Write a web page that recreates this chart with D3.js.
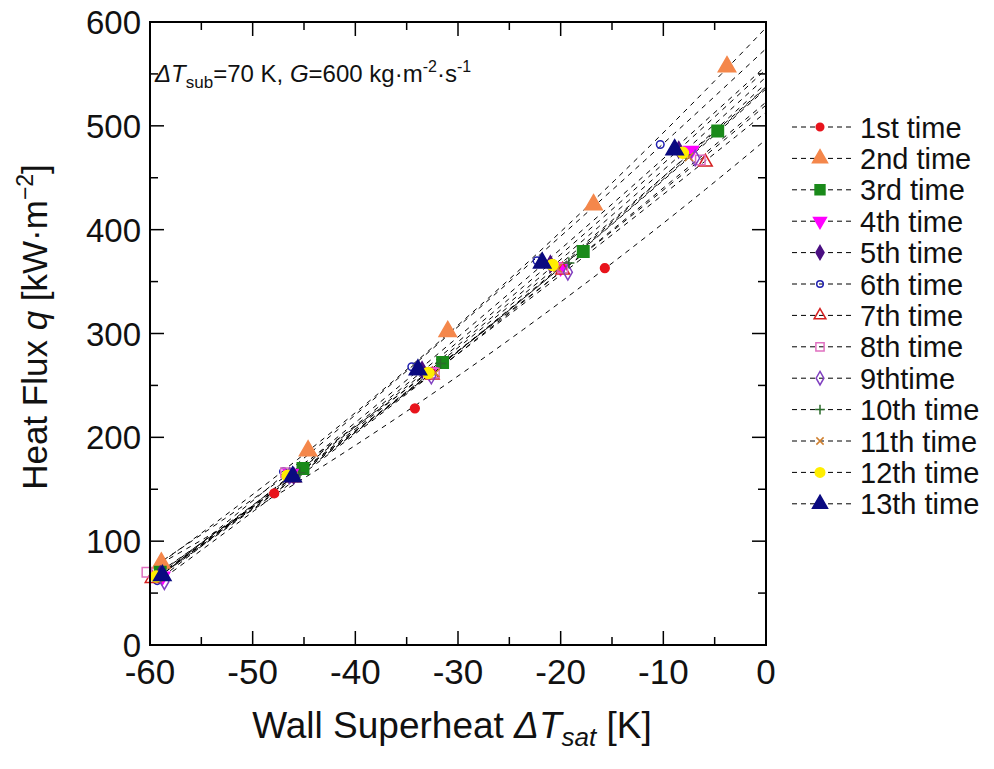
<!DOCTYPE html>
<html><head><meta charset="utf-8">
<script src="https://cdn.jsdelivr.net/npm/d3@7"></script>
<style>body{margin:0;background:#fff}svg{font-family:"Liberation Sans",Arial,sans-serif}</style>
</head><body>
<svg id="c" width="994" height="769"></svg>
<script>
const seriesNames = ["1st time","2nd time","3rd time","4th time","5th time","6th time","7th time","8th time","9thtime","10th time","11th time","12th time","13th time"];
const s1  = [[-59.0,77],[-47.9,146],[-34.2,228],[-15.7,363]];
const s2  = [[-58.9,79],[-44.6,187],[-31.0,302],[-16.8,424],[-3.8,557]];
const s3  = [[-59.0,70],[-45.1,170],[-31.5,272],[-17.8,379],[-4.7,495]];
const s4  = [[-58.8,66],[-46.3,165],[-32.8,263],[-20.0,364],[-7.3,476]];
const s5  = [[-59.0,68],[-46.0,163],[-33.5,265],[-21.0,367],[-8.5,477]];
const s6  = [[-59.3,62],[-47.0,167],[-34.5,268],[-22.3,370],[-10.3,482]];
const s7  = [[-59.8,64],[-46.0,161],[-32.5,260],[-19.8,361],[-5.9,465]];
const s8  = [[-60.3,70],[-46.8,166],[-32.3,262],[-19.8,363],[-6.4,467]];
const s9  = [[-58.6,61],[-46.4,163],[-32.6,259],[-19.3,359],[-6.9,469]];
const s10 = [[-59.1,67],[-45.4,166],[-31.7,271],[-19.2,368],[-7.8,472]];
const s11 = [[-59.2,65],[-46.0,162],[-32.2,262],[-20.3,363],[-7.5,470]];
const s12 = [[-59.4,66],[-46.6,163],[-32.9,262],[-20.8,366],[-8.1,474]];
const s13 = [[-58.8,67],[-46.1,162],[-33.9,265],[-21.8,368],[-8.9,477]];
const seriesData = [s1,s2,s3,s4,s5,s6,s7,s8,s9,s10,s11,s12,s13];
const xTicks = [-60,-50,-40,-30,-20,-10,0];
const yTicks = [0,100,200,300,400,500,600];

const styles = [
  {shape:d3.symbolCircle,   size:60,  fill:"#e8141c", stroke:"#e8141c"},
  {shape:d3.symbolTriangle, size:130, fill:"#f4874b", stroke:"#f4874b"},
  {shape:d3.symbolSquare,   size:130, fill:"#1a8a1a", stroke:"#1a8a1a"},
  {shape:"down",            size:95,  fill:"#ff00ff", stroke:"#ff00ff"},
  {shape:d3.symbolDiamond,  size:75,  fill:"#4b0f82", stroke:"#4b0f82"},
  {shape:d3.symbolCircle,   size:45,  fill:"none",    stroke:"#2020b0"},
  {shape:d3.symbolTriangle, size:80,  fill:"none",    stroke:"#d42020"},
  {shape:d3.symbolSquare,   size:90,  fill:"none",    stroke:"#e070c0"},
  {shape:d3.symbolDiamond,  size:70,  fill:"none",    stroke:"#8040c0"},
  {shape:"plus",            size:80,  fill:"none",    stroke:"#2a6a2a", plus:true},
  {shape:"x",               size:70,  fill:"none",    stroke:"#d08030", xmark:true},
  {shape:d3.symbolCircle,   size:95,  fill:"#ffee00", stroke:"#ffee00"},
  {shape:d3.symbolTriangle, size:130, fill:"#0a0a80", stroke:"#0a0a80"}
];

const svg = d3.select("#c");
const L=150, R=766, T=22, B=645;
const x = d3.scaleLinear().domain([-60,0]).range([L,R]);
const y = d3.scaleLinear().domain([0,600]).range([B,T]);

function symPath(st){
  if (st.shape==="down") return d3.symbol(d3.symbolTriangle, st.size)();
  if (st.plus) { const r=Math.sqrt(st.size)/2+1; return `M${-r},0H${r}M0,${-r}V${r}`; }
  if (st.xmark) { const r=Math.sqrt(st.size)/2; return `M${-r},${-r}L${r},${r}M${-r},${r}L${r},${-r}`; }
  return d3.symbol(st.shape, st.size)();
}
function symTransform(st,px,py){
  return `translate(${px},${py})` + (st.shape==="down" ? " rotate(180)" : "");
}

// quadratic least squares fit (trend line for each run)
function quadFit(pts){
  let S=[0,0,0,0,0], Sy=[0,0,0];
  pts.forEach(([a,b])=>{ let p=1; for(let k=0;k<5;k++){S[k]+=p; if(k<3) Sy[k]+=p*b; p*=a;} });
  const M=[[S[0],S[1],S[2],Sy[0]],[S[1],S[2],S[3],Sy[1]],[S[2],S[3],S[4],Sy[2]]];
  for(let i=0;i<3;i++){ let piv=i; for(let r=i+1;r<3;r++) if(Math.abs(M[r][i])>Math.abs(M[piv][i])) piv=r;
    [M[i],M[piv]]=[M[piv],M[i]];
    for(let r=0;r<3;r++){ if(r===i) continue; const f=M[r][i]/M[i][i]; for(let c=i;c<4;c++) M[r][c]-=f*M[i][c]; } }
  const c=[M[0][3]/M[0][0],M[1][3]/M[1][1],M[2][3]/M[2][2]];
  return t=>c[0]+c[1]*t+c[2]*t*t;
}

svg.append("defs").append("clipPath").attr("id","clip")
  .append("rect").attr("x",L).attr("y",T).attr("width",R-L).attr("height",B-T);

const plot = svg.append("g").attr("clip-path","url(#clip)");
const line = d3.line().x(d=>x(d[0])).y(d=>y(d[1]));
seriesData.forEach((pts,i)=>{
  const f = quadFit(pts);
  const x0 = d3.min(pts,d=>d[0]);
  const curve = d3.range(0,41).map(k=>{ const t=x0+(0-x0)*k/40; return [t,f(t)]; });
  plot.append("path").attr("d",line(curve)).attr("fill","none")
    .attr("stroke","#000").attr("stroke-width",1).attr("stroke-dasharray","5,5");
});
const mk = svg.append("g");
seriesData.forEach((pts,i)=>{
  const st=styles[i];
  pts.forEach(d=>{
    mk.append("path").attr("d",symPath(st)).attr("transform",symTransform(st,x(d[0]),y(d[1])))
      .attr("fill",st.fill).attr("stroke",st.stroke).attr("stroke-width",1.5);
  });
});

// frame
svg.append("rect").attr("x",L).attr("y",T).attr("width",R-L).attr("height",B-T)
  .attr("fill","none").attr("stroke","#000").attr("stroke-width",2);

// ticks inward on all sides
const xMinor = d3.range(-55,0,10), yMinor = d3.range(50,600,100);
const tk = svg.append("g").attr("stroke","#000").attr("stroke-width",1.5);
xTicks.forEach(v=>{ tk.append("line").attr("x1",x(v)).attr("x2",x(v)).attr("y1",B).attr("y2",B-14);
  tk.append("line").attr("x1",x(v)).attr("x2",x(v)).attr("y1",T).attr("y2",T+14); });
xMinor.forEach(v=>{ tk.append("line").attr("x1",x(v)).attr("x2",x(v)).attr("y1",B).attr("y2",B-8);
  tk.append("line").attr("x1",x(v)).attr("x2",x(v)).attr("y1",T).attr("y2",T+8); });
yTicks.forEach(v=>{ tk.append("line").attr("x1",L).attr("x2",L+14).attr("y1",y(v)).attr("y2",y(v));
  tk.append("line").attr("x1",R).attr("x2",R-14).attr("y1",y(v)).attr("y2",y(v)); });
yMinor.forEach(v=>{ tk.append("line").attr("x1",L).attr("x2",L+8).attr("y1",y(v)).attr("y2",y(v));
  tk.append("line").attr("x1",R).attr("x2",R-8).attr("y1",y(v)).attr("y2",y(v)); });

const tl = svg.append("g").attr("fill","#111");
xTicks.forEach(v=>tl.append("text").attr("x",x(v)).attr("y",B+39).attr("font-size",35).attr("text-anchor","middle").text(v));
yTicks.forEach(v=>tl.append("text").attr("x",L-9).attr("y",y(v)+12).attr("font-size",33).attr("text-anchor","end").text(v));

// axis titles
const xt = svg.append("text").attr("x",452).attr("y",738).attr("text-anchor","middle").attr("font-size",37).attr("fill","#111");
xt.append("tspan").text("Wall Superheat ");
xt.append("tspan").attr("font-style","italic").text("\u0394T");
xt.append("tspan").attr("font-style","italic").attr("font-size",26).attr("dy",8).text("sat");
xt.append("tspan").attr("dy",-8).text(" [K]");

const yt = svg.append("text").attr("transform","translate(47,327) rotate(-90)").attr("text-anchor","middle").attr("font-size",35).attr("fill","#111");
yt.append("tspan").text("Heat Flux ");
yt.append("tspan").attr("font-style","italic").text("q");
yt.append("tspan").text(" [kW\u00b7m");
yt.append("tspan").attr("font-size",23).attr("dy",-14).text("\u22122");
yt.append("tspan").attr("dy",14).text("]");

// annotation
const an = svg.append("text").attr("x",155).attr("y",82).attr("font-size",24).attr("fill","#111");
an.append("tspan").attr("font-style","italic").text("\u0394T");
an.append("tspan").attr("font-size",17).attr("dy",6).text("sub");
an.append("tspan").attr("dy",-6).text("=70 K, ");
an.append("tspan").attr("font-style","italic").text("G");
an.append("tspan").text("=600 kg\u00b7m");
an.append("tspan").attr("font-size",16).attr("dy",-10).text("-2");
an.append("tspan").attr("dy",10).text("\u00b7s");
an.append("tspan").attr("font-size",16).attr("dy",-10).text("-1");

// legend
const lg = svg.append("g");
seriesNames.forEach((nm,i)=>{
  const yy = 127 + i*31.4, st=styles[i];
  lg.append("line").attr("x1",792).attr("x2",852).attr("y1",yy).attr("y2",yy)
    .attr("stroke","#000").attr("stroke-width",1).attr("stroke-dasharray","5,4");
  const s2 = Object.assign({},st,{size:st.size*0.75});
  lg.append("path").attr("d",symPath(s2)).attr("transform",symTransform(st,820,yy))
    .attr("fill",st.fill).attr("stroke",st.stroke).attr("stroke-width",1.5);
  lg.append("text").attr("x",860).attr("y",yy+10.5).attr("font-size",29).attr("fill","#111").text(nm);
});
</script>
</body></html>
